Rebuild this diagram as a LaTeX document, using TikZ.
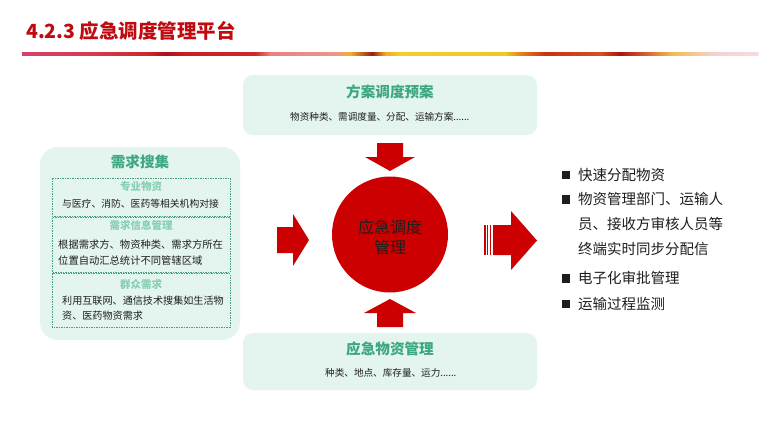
\documentclass[tikz,border=0pt]{standalone}
\usepackage{fontspec}
\setmainfont{Noto Sans CJK SC}
\definecolor{titlered}{RGB}{192,10,16}
\definecolor{redmain}{RGB}{204,0,0}
\definecolor{mint}{RGB}{228,245,239}
\definecolor{greentitle}{RGB}{60,168,128}
\definecolor{greenlight}{RGB}{135,208,180}
\definecolor{dashgreen}{RGB}{70,160,128}
\definecolor{textdark}{RGB}{30,30,30}
\definecolor{g1}{RGB}{216,64,104}
\definecolor{g2}{RGB}{212,60,80}
\definecolor{g3}{RGB}{200,40,40}
\definecolor{g4}{RGB}{170,16,32}
\definecolor{g5}{RGB}{200,32,32}
\definecolor{g6}{RGB}{205,40,40}
\definecolor{g7}{RGB}{232,128,128}
\definecolor{g8}{RGB}{236,150,140}
\definecolor{g9}{RGB}{240,176,48}
\definecolor{g10}{RGB}{150,30,10}
\definecolor{g11}{RGB}{240,170,40}
\definecolor{g12}{RGB}{242,208,40}
\definecolor{g13}{RGB}{240,200,40}
\definecolor{g14}{RGB}{230,130,30}
\definecolor{g15}{RGB}{200,50,20}
\definecolor{g16}{RGB}{215,80,30}
\definecolor{g17}{RGB}{170,20,20}
\definecolor{g18}{RGB}{220,110,50}
\definecolor{g19}{RGB}{240,190,80}
\definecolor{g20}{RGB}{245,210,210}
\definecolor{g21}{RGB}{246,220,220}
\begin{document}
\begin{tikzpicture}[x=1pt,y=-1pt,
  txt/.style={inner sep=0pt, text=textdark},
  mintbox/.style={fill=mint, draw=none, rounded corners=10pt},
  dashbox/.style={draw=dashgreen, dashed, line width=0.6pt, dash pattern=on 1.5pt off 1pt},
  boxtitle/.style={inner sep=0pt, text=greentitle, font=\fontsize{14.6}{17}\selectfont\bfseries},
  subhead/.style={inner sep=0pt, text=greenlight, font=\fontsize{10.5}{13}\selectfont\bfseries},
  smalltxt/.style={txt, font=\fontsize{9.6}{12}\selectfont},
  lefttxt/.style={txt, font=\fontsize{10.1}{12}\selectfont},
  listtxt/.style={txt, anchor=west, font=\fontsize{14.5}{17}\selectfont},
  blockarrow/.style={fill=redmain, draw=none}]
\useasboundingbox (0,0) rectangle (780,439);
\fill[white] (0,0) rectangle (780,439);

% title
\node[inner sep=0pt, anchor=west, text=titlered, font=\fontsize{19.5}{22}\selectfont\bfseries] (title) at (26,31) {4.2.3 应急调度管理平台};
\foreach \xa/\ca/\xb/\cb in {22/g1/90/g2, 90/g2/150/g3, 150/g3/165/g4, 165/g4/185/g5, 185/g5/255/g6, 255/g6/270/g7, 270/g7/335/g8, 335/g8/350/g9, 350/g9/372/g10, 372/g10/385/g11, 385/g11/400/g12, 400/g12/505/g13, 505/g13/520/g14, 520/g14/545/g15, 545/g15/600/g16, 600/g16/620/g17, 620/g17/650/g18, 650/g18/672/g19, 672/g19/715/g20, 715/g20/758/g21}
  {\shade[left color=\ca, right color=\cb] (\xa,52) rectangle (\xb+0.4,55);}

% top box
\fill[mintbox] (243,75) rectangle (537,135);
\node[boxtitle] (toptitle) at (390,92) {方案调度预案};
\node[smalltxt, anchor=west] (toptext) at (290,117) {物资种类、需调度量、分配、运输方案......};

% bottom box
\fill[mintbox] (243,333) rectangle (537,390);
\node[boxtitle] (bottitle) at (390,349) {应急物资管理};
\node[smalltxt, anchor=west] (bottext) at (325,373) {种类、地点、库存量、运力......};

% left box
\fill[mint, rounded corners=18pt] (40,147) rectangle (240,340);
\node[boxtitle] (lefttitle) at (140,162) {需求搜集};
\draw[dashbox] (52,178) rectangle (230,216);
\draw[dashbox] (52,217.5) rectangle (230,272);
\draw[dashbox] (52,273.5) rectangle (230,327);
\node[subhead] (h1) at (141,187) {专业物资};
\node[lefttxt, font=\fontsize{9.8}{12}\selectfont] (t1) at (140.5,203.5) {与医疗、消防、医药等相关机构对接};
\node[subhead] (h2) at (141,225) {需求信息管理};
\node[lefttxt, anchor=west, font=\fontsize{10.3}{12}\selectfont] (t2a) at (58,245) {根据需求方、物资种类、需求方所在};
\node[lefttxt, anchor=west, font=\fontsize{10.3}{12}\selectfont] (t2b) at (58,261) {位置自动汇总统计不同管辖区域};
\node[subhead] (h3) at (141,284) {群众需求};
\node[lefttxt, anchor=west] (t3a) at (62,301) {利用互联网、通信技术搜集如生活物};
\node[lefttxt, anchor=west] (t3b) at (62,315.5) {资、医药物资需求};

% hub circle
\node[circle, fill=redmain, minimum size=116pt, inner sep=0pt] (hub) at (390,234.5) {};
\node[txt, align=center, font=\fontsize{16}{20}\selectfont] (hubtext) at (390,237) {应急调度\\管理};

% block arrows
\fill[blockarrow] (377,143) -- (403,143) -- (403,157) -- (415,157) -- (390,171) -- (365,157) -- (377,157) -- cycle;
\fill[blockarrow] (377,327) -- (403,327) -- (403,313) -- (416,313) -- (390,299) -- (364,313) -- (377,313) -- cycle;
\fill[blockarrow] (277,227) -- (293,227) -- (293,214) -- (309,240) -- (293,266) -- (293,253) -- (277,253) -- cycle;
\fill[blockarrow] (493,225) -- (511,225) -- (511,211) -- (537,240.5) -- (511,270) -- (511,255) -- (493,255) -- cycle;
\fill[blockarrow] (484.3,225) rectangle (485.7,255);
\fill[blockarrow] (487,225) rectangle (488.4,255);
\fill[blockarrow] (489.7,225) rectangle (491.1,255);

% right list
\foreach \yy in {175,199.3,278.3,304} {\fill[textdark] (562,\yy-4.2) rectangle (570.2,\yy+4.2);}
\node[listtxt] (l1) at (578,175) {快速分配物资};
\node[listtxt] (l2a) at (578,199.3) {物资管理部门、运输人};
\node[listtxt] (l2b) at (578,224) {员、接收方审核人员等};
\node[listtxt] (l2c) at (578,249.3) {终端实时同步分配信};
\node[listtxt] (l3) at (578,278.3) {电子化审批管理};
\node[listtxt] (l4) at (578,304) {运输过程监测};
\end{tikzpicture}
\end{document}
